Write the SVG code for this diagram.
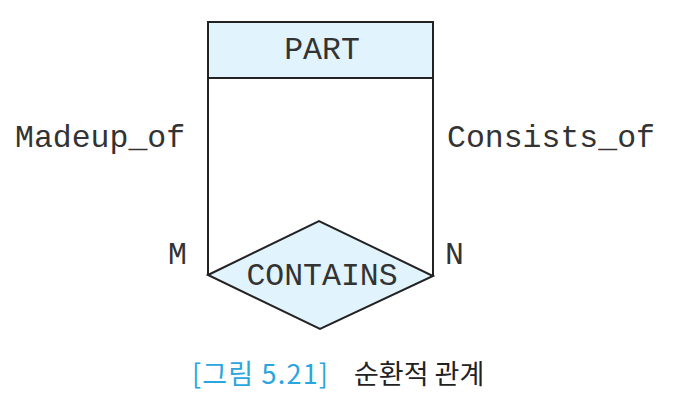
<svg xmlns="http://www.w3.org/2000/svg" width="675" height="401" viewBox="0 0 675 401">
<style>
.shape{fill:#e1f3fd;stroke:#222;stroke-width:2}
.line{fill:none;stroke:#222;stroke-width:2}
.lbl{font-family:"Liberation Mono",monospace;font-size:31.5px;fill:#333}
.cap{font-family:"Noto Sans CJK KR",sans-serif;font-size:27px}
</style>
<rect width="675" height="401" fill="#fff"/>
<g id="connectors">
<line class="line" x1="208" y1="78" x2="208" y2="275"/>
<line class="line" x1="433" y1="78" x2="433" y2="276"/>
<text class="lbl" x="15" y="147">Madeup_of</text>
<text class="lbl" x="447" y="147">Consists_of</text>
<text class="lbl" x="168" y="264">M</text>
<text class="lbl" x="445" y="264">N</text>
</g>
<g id="part">
<rect class="shape" x="208" y="22" width="225" height="56"/>
<text class="lbl" x="322" y="59" text-anchor="middle">PART</text>
</g>
<g id="contains">
<polygon class="shape" points="208,275 319,221 433,276 320,329"/>
<text class="lbl" x="322" y="285" text-anchor="middle">CONTAINS</text>
</g>
<g id="caption">
<text class="cap" x="192" y="384" fill="#2aa5e0" textLength="136" lengthAdjust="spacing">[그림 5.21]</text>
<text class="cap" x="354" y="384" fill="#222">순환적 관계</text>
</g>
</svg>
